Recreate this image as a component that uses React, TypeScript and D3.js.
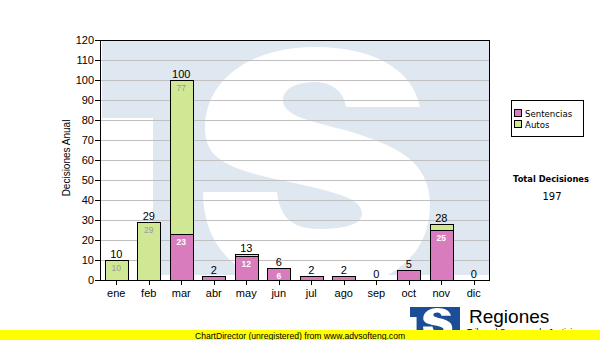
import React from "react";
import * as d3 from "d3";

const months = ["ene", "feb", "mar", "abr", "may", "jun", "jul", "ago", "sep", "oct", "nov", "dic"];
const sentencias = [0, 0, 23, 2, 12, 6, 2, 2, 0, 5, 25, 0];
const autos = [10, 29, 77, 0, 1, 0, 0, 0, 0, 0, 3, 0];
const seriesNames = ["Sentencias", "Autos"];
const yTicks = [0, 10, 20, 30, 40, 50, 60, 70, 80, 90, 100, 110, 120];
const yTitle = "Decisiones Anual";
const totalLabel = "Total Decisiones";
const footer = "ChartDirector (unregistered) from www.advsofteng.com";

const PINK = "#d87cbe";
const GREEN = "#d0e894";
const FONT = "'Liberation Sans', Arial, sans-serif";

// outline of the logo's "S" shape in a 388x235 logo box (origin 102,40)
const S_PATH =
  "M 420 107 C 412 68 372 47 315 47 C 250 47 205 80 205 128 C 205 160 230 170 290 182 " +
  "C 345 194 362 200 362 214 C 362 224 345 229 320 229 C 295 229 280 220 277 192 L 203 192 " +
  "C 203 255 250 290 318 290 C 390 290 430 255 430 205 C 430 160 395 145 345 130 " +
  "C 305 120 283 115 283 100 C 283 88 298 82 315 82 C 332 82 344 92 346 107 Z";

function Logo({ x, y, w, h, blue, idp }: { x: number; y: number; w: number; h: number; blue: string; idp: string }) {
  const k = w / 388;
  return (
    <g>
      <defs>
        <clipPath id={idp}>
          <rect x={x} y={y} width={w} height={h} />
        </clipPath>
      </defs>
      <g clipPath={`url(#${idp})`}>
        <rect x={x} y={y} width={w} height={h} fill={blue} />
        <rect x={x} y={y + 78 * k} width={51 * k} height={h} fill="#ffffff" />
        <path transform={`translate(${x},${y}) scale(${k}) translate(-102,-40)`} d={S_PATH} fill="#ffffff" />
      </g>
    </g>
  );
}

export default function App() {
  const left = 100, right = 490, top = 40, bottom = 280;
  const x = d3.scaleBand<string>().domain(months).range([left, right]).paddingInner(0.3).paddingOuter(0.15);
  const y = d3.scaleLinear().domain([0, 120]).range([bottom, top]);

  const rows = months.map((m, i) => ({ month: m, Sentencias: sentencias[i], Autos: autos[i] }));
  const stacked = d3.stack<any>().keys(seriesNames)(rows);
  const colors = [PINK, GREEN];
  const innerColors = ["#ffffff", "#9a9a9a"];
  const total = d3.sum(sentencias) + d3.sum(autos);

  return (
    <svg width={600} height={340} style={{ position: "absolute", left: 0, top: 0, background: "#fff" }}>
      <rect x={0} y={0} width={600} height={340} fill="#ffffff" />
      {/* watermark background */}
      <Logo x={102} y={40} w={388} h={235} blue="#dfe8f1" idp="bgclip" />
      {/* grid */}
      {yTicks.filter((t) => t > 0 && t < 120).map((t) => (
        <line key={t} x1={left} x2={right} y1={Math.round(y(t)) + 0.5} y2={Math.round(y(t)) + 0.5} stroke="#c0c0c0" strokeWidth={1} />
      ))}
      {/* bars */}
      {stacked.map((s, si) =>
        s.map((d, i) => {
          const v = d[1] - d[0];
          if (v <= 0) return null;
          const bx = x(months[i])!;
          const y0 = y(d[0]);
          const y1 = y(d[1]);
          return (
            <g key={`${si}-${i}`}>
              <rect x={Math.round(bx) + 0.5} y={Math.round(y1) + 0.5} width={Math.round(x.bandwidth())} height={Math.round(y0 - y1)} fill={colors[si]} stroke="#000" strokeWidth={1} />
              {y0 - y1 >= 11 && (
                <text x={bx + x.bandwidth() / 2} y={y1 + 10.5} textAnchor="middle" fontFamily={FONT} fontSize={8.5} fontWeight={si === 0 ? "bold" : "normal"} fill={innerColors[si]}>
                  {v}
                </text>
              )}
            </g>
          );
        })
      )}
      {/* totals */}
      {months.map((m, i) => (
        <text key={m} x={x(m)! + x.bandwidth() / 2} y={y(sentencias[i] + autos[i]) - 2} textAnchor="middle" fontFamily={FONT} fontSize={11} fill="#000">
          {sentencias[i] + autos[i]}
        </text>
      ))}
      {/* border */}
      <rect x={left + 0.5} y={top + 0.5} width={right - left - 1} height={bottom - top} fill="none" stroke="#000" strokeWidth={1} />
      <line x1={left} x2={right} y1={bottom + 0.5} y2={bottom + 0.5} stroke="#000" strokeWidth={1} />
      {/* y axis */}
      {yTicks.map((t) => (
        <g key={t}>
          <line x1={left - 5} x2={left} y1={Math.round(y(t)) + 0.5} y2={Math.round(y(t)) + 0.5} stroke="#000" />
          <text x={left - 6} y={y(t) + 4} textAnchor="end" fontFamily={FONT} fontSize={11} fill="#000">
            {t}
          </text>
        </g>
      ))}
      {/* x axis */}
      {months.map((m) => (
        <g key={m}>
          <line x1={Math.round(x(m)! + x.bandwidth() / 2) + 0.5} x2={Math.round(x(m)! + x.bandwidth() / 2) + 0.5} y1={bottom} y2={bottom + 5} stroke="#000" />
          <text x={x(m)! + x.bandwidth() / 2} y={297} textAnchor="middle" fontFamily={FONT} fontSize={11} fill="#000">
            {m}
          </text>
        </g>
      ))}
      <text transform="translate(70,158) rotate(-90)" textAnchor="middle" fontFamily={FONT} fontSize={10} fill="#000">
        {yTitle}
      </text>
      {/* legend */}
      <rect x={511.5} y={100.5} width={72} height={36} fill="#fff" stroke="#000" />
      {seriesNames.map((n, i) => (
        <g key={n}>
          <rect x={514.5} y={109.5 + i * 11} width={7} height={7} fill={colors[i]} stroke="#000" />
          <text x={525} y={117 + i * 11} fontFamily="'DejaVu Sans', sans-serif" fontSize={8.6} fill="#000">
            {n}
          </text>
        </g>
      ))}
      <text x={551} y={182} textAnchor="middle" fontFamily="'DejaVu Sans', sans-serif" fontWeight="bold" fontSize={8.3} fill="#000">
        {totalLabel}
      </text>
      <text x={552} y={200} textAnchor="middle" fontFamily="'DejaVu Sans', sans-serif" fontSize={10} fill="#000">
        {total}
      </text>
      {/* bottom logo */}
      <Logo x={410} y={307} w={50} h={30} blue="#1c4e97" idp="logoclip" />
      <text x={469} y={323} fontFamily={FONT} fontSize={19} fill="#000">
        Regiones
      </text>
      <text x={467} y={335} fontFamily={FONT} fontSize={8.5} fill="#000">
        Tribunal Supremo de Justicia
      </text>
      {/* footer */}
      <rect x={0} y={330} width={600} height={10} fill="#ffff00" />
      <text x={300} y={338.5} textAnchor="middle" fontFamily={FONT} fontSize={8.6} fill="#000">
        {footer}
      </text>
    </svg>
  );
}
